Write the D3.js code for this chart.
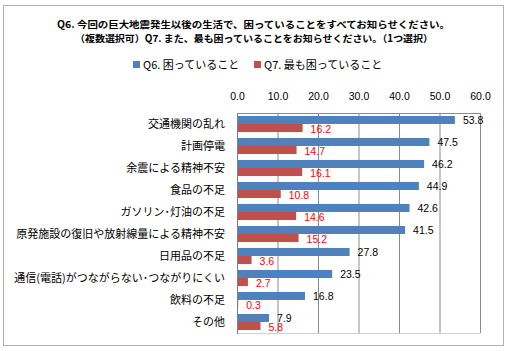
<!DOCTYPE html>
<html>
<head>
<meta charset="utf-8">
<script src="https://cdn.jsdelivr.net/npm/d3@7"></script>
<style>
  body { margin: 0; background: #fff; }
  svg { font-family: "Noto Sans CJK JP", "Noto Sans", sans-serif; }
</style>
</head>
<body>
<svg width="511" height="351"></svg>
<script>
// Data
const categories = ["交通機関の乱れ", "計画停電", "余震による精神不安", "食品の不足", "ガソリン･灯油の不足",
    "原発施設の復旧や放射線量による精神不安", "日用品の不足", "通信(電話)がつながらない･つながりにくい", "飲料の不足", "その他"];
const q6Values = [53.8, 47.5, 46.2, 44.9, 42.6, 41.5, 27.8, 23.5, 16.8, 7.9];
const q7Values = [16.2, 14.7, 16.1, 10.8, 14.6, 15.2, 3.6, 2.7, 0.3, 5.8];
const tickValues = [0, 10, 20, 30, 40, 50, 60];
const seriesNames = ["Q6.  困っていること", "Q7.  最も困っていること"];
const titleLines = ["Q6. 今回の巨大地震発生以後の生活で、困っていることをすべてお知らせください。",
    "（複数選択可）Q7. また、最も困っていることをお知らせください。（1つ選択）"];

const colors = ["#4F81BD", "#C0504D"];

const svg = d3.select("svg");

// Outer border
svg.append("rect")
    .attr("x", 3.5).attr("y", 5.5)
    .attr("width", 500).attr("height", 340)
    .attr("fill", "#fff")
    .attr("stroke", "#b0b0b0");

// Title (squeezed to the reference width)
const titleSpan = [[57, 450], [75, 433]];
svg.selectAll(".title")
    .data(titleLines)
    .enter()
    .append("text")
    .attr("x", (d, i) => titleSpan[i][0])
    .attr("y", (d, i) => 28 + i * 14)
    .attr("textLength", (d, i) => titleSpan[i][1] - titleSpan[i][0])
    .attr("lengthAdjust", "spacingAndGlyphs")
    .style("font-size", "9.6px")
    .style("font-weight", "bold")
    .text(d => d);

// Legend
const legend = svg.append("g");
const legendX = [133, 254];
seriesNames.forEach((name, i) => {
    legend.append("rect")
        .attr("x", legendX[i]).attr("y", 61)
        .attr("width", 7).attr("height", 7)
        .attr("fill", colors[i]);
    legend.append("text")
        .attr("x", legendX[i] + 10).attr("y", 69)
        .style("font-size", "11px")
        .text(name);
});

// Plot area
const plot = { left: 237, right: 480, top: 113, bottom: 333 };

const xScale = d3.scaleLinear()
    .domain([0, 60])
    .range([plot.left, plot.right]);

const yScale = d3.scaleBand()
    .domain(categories)
    .range([plot.top, plot.bottom])
    .paddingInner(0.27)
    .paddingOuter(0.135);

const sub = d3.scaleBand()
    .domain([0, 1])
    .range([0, yScale.bandwidth()]);

// Gridlines
svg.append("g")
    .selectAll("line")
    .data(tickValues)
    .enter()
    .append("line")
    .attr("x1", d => xScale(d) + 0.5)
    .attr("x2", d => xScale(d) + 0.5)
    .attr("y1", plot.top)
    .attr("y2", plot.bottom)
    .attr("stroke", "#8c8c8c");

svg.append("line")
    .attr("x1", plot.left).attr("x2", plot.right + 0.5)
    .attr("y1", plot.top + 0.5).attr("y2", plot.top + 0.5)
    .attr("stroke", "#8c8c8c");
svg.append("line")
    .attr("x1", plot.left).attr("x2", plot.right + 0.5)
    .attr("y1", plot.bottom + 0.5).attr("y2", plot.bottom + 0.5)
    .attr("stroke", "#d0d0d0");

// Top axis
const xAxis = svg.append("g")
    .attr("transform", `translate(0, ${plot.top - 10})`)
    .call(d3.axisTop(xScale).tickValues(tickValues).tickFormat(d3.format(".1f")).tickSize(0));
xAxis.select(".domain").remove();
xAxis.selectAll("text")
    .style("font-size", "10.5px")
    .style("font-family", "'Liberation Sans', sans-serif")
    .attr("fill", "#000");

// Category labels
svg.append("g")
    .selectAll("text")
    .data(categories)
    .enter()
    .append("text")
    .attr("x", 225)
    .attr("y", d => yScale(d) + yScale.bandwidth() / 2)
    .attr("dy", "0.35em")
    .attr("text-anchor", "end")
    .style("font-size", "11px")
    .text(d => d);

// Bars
const series = [q6Values, q7Values];
series.forEach((vals, s) => {
    svg.append("g")
        .selectAll("rect")
        .data(vals)
        .enter()
        .append("rect")
        .attr("x", xScale(0) + 1)
        .attr("y", (d, i) => yScale(categories[i]) + sub(s))
        .attr("width", d => xScale(d) - xScale(0) - 1)
        .attr("height", sub.bandwidth())
        .attr("fill", colors[s]);

    svg.append("g")
        .selectAll("text")
        .data(vals)
        .enter()
        .append("text")
        .attr("x", d => xScale(d) + 8)
        .attr("y", (d, i) => yScale(categories[i]) + sub(s) + sub.bandwidth() / 2 + (s === 0 ? 0 : 1))
        .attr("dy", "0.35em")
        .style("font-size", "10.5px")
        .style("font-family", "'Liberation Sans', sans-serif")
        .attr("fill", s === 0 ? "#000" : "#ff0000")
        .text(d => d.toFixed(1));
});

// Left axis line
svg.append("line")
    .attr("x1", plot.left + 0.5).attr("x2", plot.left + 0.5)
    .attr("y1", plot.top).attr("y2", plot.bottom + 1)
    .attr("stroke", "#808080");
</script>
</body>
</html>
